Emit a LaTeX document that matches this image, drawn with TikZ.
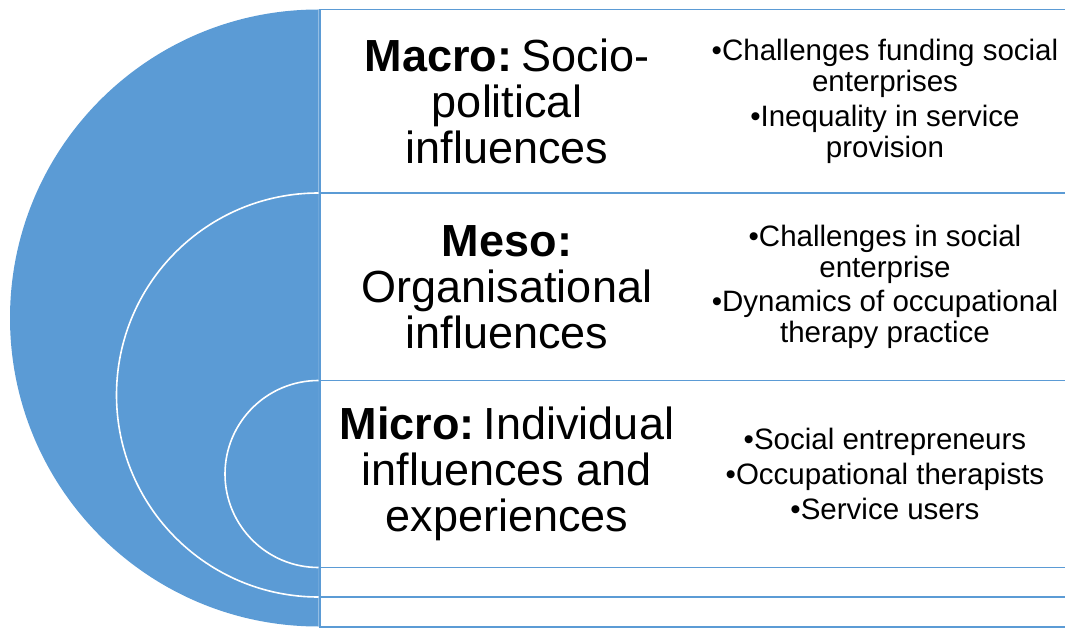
\documentclass[tikz,border=0pt]{standalone}
\usepackage{fontspec}
\setmainfont{Liberation Sans}
\definecolor{levelblue}{HTML}{5B9BD5}

\begin{document}
\begin{tikzpicture}[x=1pt,y=-1pt,
  band/.style={fill=white,draw=levelblue,line width=1.5pt},
  ringedge/.style={draw=white,line width=1.6pt},
  levelname/.style={align=center,font=\fontsize{45}{46}\selectfont},
  levelitems/.style={align=center,font=\fontsize{29.5}{31}\selectfont}]
\newcommand{\xcut}{318.5}
\newcommand{\xend}{1080}
\useasboundingbox (0,0) rectangle (1065,628);

\fill[levelblue] (\xcut,9.5) arc[start angle=90,end angle=270,radius=308.5pt] -- cycle;
\draw[band] (\xcut+1.5,9.5) rectangle (\xend,627);

\fill[levelblue] (\xcut,193) arc[start angle=90,end angle=270,radius=202pt] -- cycle;
\draw[ringedge] (\xcut,193) arc[start angle=90,end angle=270,radius=202pt];
\draw[band] (\xcut+1.5,193) rectangle (\xend,597);

\fill[levelblue] (\xcut,380.5) arc[start angle=90,end angle=270,radius=93.5pt] -- cycle;
\draw[ringedge] (\xcut,380.5) arc[start angle=90,end angle=270,radius=93.5pt];
\draw[band] (\xcut+1.5,380.5) rectangle (\xend,567.5);

\node[levelname] (macroName) at (507,101) {\textbf{Macro:}\hspace{9pt}Socio-\\political\\influences};
\node[levelname] (mesoName) at (507,287) {\textbf{Meso:}\\Organisational\\influences};
\node[levelname] (microName) at (507,474) {\textbf{Micro:}\hspace{9pt}Individual\\influences and\\experiences};

\node[levelitems] (macroItems) at (885,101) {\textbullet Challenges funding social\\enterprises\\[4pt]\textbullet Inequality in service\\provision};
\node[levelitems] (mesoItems) at (885,287) {\textbullet Challenges in social\\enterprise\\[3pt]\textbullet Dynamics of occupational\\therapy practice};
\node[levelitems] (microItems) at (885,474) {\textbullet Social entrepreneurs\\[4pt]\textbullet Occupational therapists\\[4pt]\textbullet Service users};
\end{tikzpicture}
\end{document}
